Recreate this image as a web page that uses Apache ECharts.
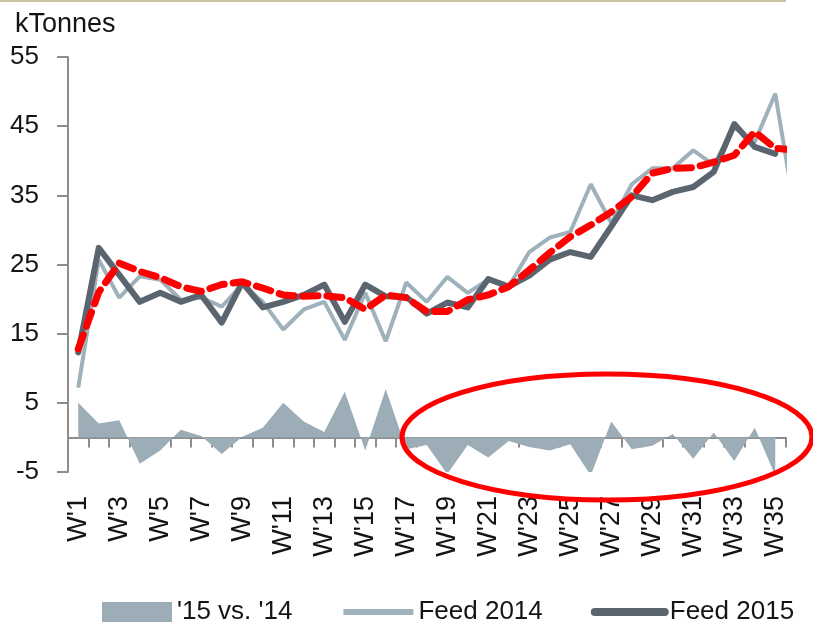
<!DOCTYPE html>
<html>
<head>
<meta charset="utf-8">
<script src="https://cdn.jsdelivr.net/npm/echarts@6/dist/echarts.min.js"></script>
<style>
  html, body { margin: 0; padding: 0; background: #fff; }
  #main { width: 813px; height: 626px; }
</style>
</head>
<body>
<div id="main"></div>
<script>
// weeks (last one is cut off by the crop of the original picture)
const weeks = ["W'1", "W'2", "W'3", "W'4", "W'5", "W'6", "W'7", "W'8", "W'9", "W'10",
  "W'11", "W'12", "W'13", "W'14", "W'15", "W'16", "W'17", "W'18", "W'19", "W'20",
  "W'21", "W'22", "W'23", "W'24", "W'25", "W'26", "W'27", "W'28", "W'29", "W'30",
  "W'31", "W'32", "W'33", "W'34", "W'35", "W'36"];

const diff1514 = [5.0, 2.0, 2.5, -3.8, -1.9, 1.1, 0.2, -2.4, 0.1, 1.4,
  5.0, 2.3, 0.8, 6.6, -1.9, 7.0, -1.7, -1.1, -5.3, -1.1,
  -2.9, -0.5, -1.4, -1.9, -1.0, -5.5, 2.3, -1.7, -1.2, 0.5,
  -3.1, 0.7, -3.4, 1.4, -5.5, null];

const feed2014 = [7.2, 25.7, 20.2, 23.3, 22.8, 19.9, 20.2, 18.9, 22.1, 19.6,
  15.6, 18.5, 19.6, 14.1, 20.9, 13.9, 22.4, 19.6, 23.2, 20.9,
  22.8, 21.8, 26.8, 28.9, 29.7, 36.6, 31.0, 36.6, 38.9, 38.9,
  41.5, 39.4, 44.8, 42.7, 49.7, 32.0];

const feed2015 = [12.3, 27.4, 23.5, 19.6, 20.9, 19.6, 20.6, 16.6, 22.4, 18.8,
  19.6, 20.6, 22.1, 16.7, 22.1, 20.4, 20.3, 17.9, 19.5, 18.8,
  22.9, 21.8, 23.4, 25.7, 26.8, 26.1, 30.5, 35.0, 34.3, 35.5,
  36.2, 38.4, 45.3, 42.0, 41.0, null];

// red dashed trend line
const trend = [12.8, 21.0, 25.2, 24.0, 23.1, 21.8, 21.1, 22.1, 22.5, 21.6,
  20.6, 20.4, 20.5, 20.2, 18.5, 20.6, 20.2, 18.2, 18.2, 19.9,
  20.6, 21.8, 24.2, 26.7, 29.0, 30.7, 32.6, 34.8, 38.2, 38.9,
  39.0, 39.8, 40.8, 44.2, 41.8, 41.5];

const yTicks = { min: -5, max: 55, interval: 10 };

const font = 'Liberation Sans';
const txt = '#141414';
const axisGray = '#8d8d8d';

let mycharts = echarts.init(document.getElementById('main'));

let option = {
  animation: false,
  backgroundColor: '#fff',
  title: {
    text: 'kTonnes',
    left: 10,
    top: 6,
    textStyle: { fontFamily: font, fontSize: 27, fontWeight: 'normal', color: txt }
  },
  legend: {
    left: 102,
    top: 599,
    padding: 0,
    itemWidth: 70,
    itemHeight: 20,
    itemGap: 48,
    textStyle: { fontFamily: font, fontSize: 26, color: txt },
    data: [
      { name: "'15 vs. '14", icon: 'rect' },
      // hide the circle that line series put in their legend icon
      { name: 'Feed 2014', itemStyle: { opacity: 0 }, lineStyle: { width: 6 } },
      { name: 'Feed 2015', itemStyle: { opacity: 0 }, lineStyle: { width: 8, cap: 'round' } }
    ]
  },
  grid: { left: 68, right: 7, top: 57, bottom: 154, containLabel: false },
  xAxis: [
    {
      type: 'category',
      data: weeks,
      boundaryGap: true,
      axisLine: { onZero: true, lineStyle: { color: axisGray, width: 2 } },
      axisTick: { show: true, interval: 0, length: 10, lineStyle: { color: axisGray, width: 2 } },
      axisLabel: { show: false }
    },
    {
      type: 'category',
      data: weeks,
      position: 'bottom',
      boundaryGap: true,
      axisLine: { show: false, onZero: false },
      axisTick: { show: false },
      axisLabel: {
        interval: 1,
        rotate: 90,
        margin: 24,
        fontFamily: font,
        fontSize: 27,
        color: txt
      }
    }
  ],
  yAxis: {
    type: 'value',
    min: yTicks.min,
    max: yTicks.max,
    interval: yTicks.interval,
    axisLine: { show: true, onZero: false, lineStyle: { color: axisGray, width: 2 } },
    axisTick: { show: true, length: 11, lineStyle: { color: axisGray, width: 2 } },
    splitLine: { show: false },
    axisLabel: { margin: 29, fontFamily: font, fontSize: 26, color: txt }
  },
  series: [
    {
      name: "'15 vs. '14",
      type: 'line',
      data: diff1514,
      symbol: 'none',
      color: '#9cadb8',
      lineStyle: { width: 0 },
      areaStyle: { color: '#9cadb8', opacity: 1 },
      z: 1
    },
    {
      name: 'Feed 2014',
      type: 'line',
      data: feed2014,
      symbol: 'none',
      color: '#9fb2bc',
      lineStyle: { width: 4, color: '#9fb2bc' },
      z: 2
    },
    {
      name: 'Feed 2015',
      type: 'line',
      data: feed2015,
      symbol: 'none',
      color: '#5b6570',
      lineStyle: { width: 6, color: '#5b6570', cap: 'round', join: 'round' },
      z: 3
    },
    {
      name: 'Trend',
      type: 'line',
      data: trend,
      symbol: 'none',
      color: '#ff0000',
      lineStyle: { width: 7, color: '#ff0000', type: [15, 9], cap: 'round' },
      z: 4
    }
  ],
  graphic: [
    // thin tan rule at the top of the picture
    { type: 'line', z: 100, shape: { x1: 0, y1: 1, x2: 786, y2: 1 }, style: { stroke: '#c9c29e', lineWidth: 2 } },
    // the original picture is cropped here
    { type: 'rect', z: 100, shape: { x: 787, y: 20, width: 30, height: 462 }, style: { fill: '#fff' } },
    // red ring drawn over the lower right part
    { type: 'ellipse', z: 101, shape: { cx: 607, cy: 437, rx: 205, ry: 63 }, style: { fill: null, stroke: '#ff0000', lineWidth: 5 } }
  ]
};

mycharts.setOption(option);
</script>
</body>
</html>
